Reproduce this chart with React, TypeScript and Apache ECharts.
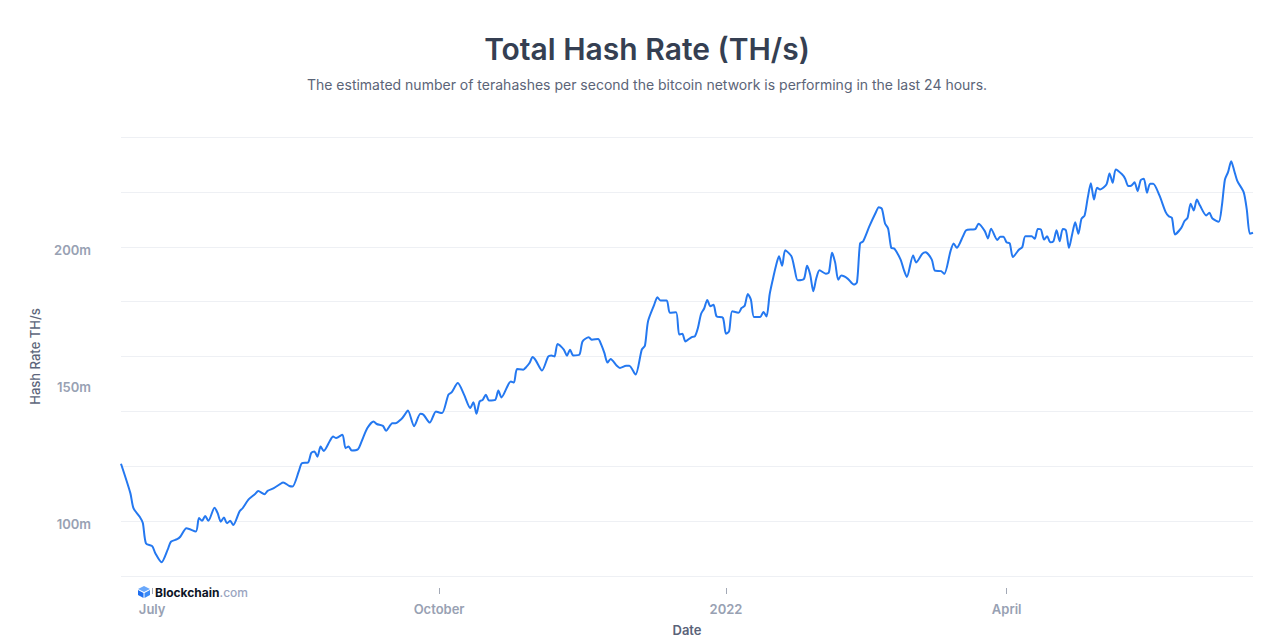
import React, { useEffect, useRef } from "react";
import * as echarts from "echarts";

const titleText = "Total Hash Rate (TH/s)";
const subtitleText =
  "The estimated number of terahashes per second the bitcoin network is performing in the last 24 hours.";
const yAxisName = "Hash Rate TH/s";
const xAxisName = "Date";

const yLabelValues = [100, 150, 200];
const xTickDates = ["2021-07-01", "2021-10-01", "2022-01-01", "2022-04-01"];
const xTickLabels = ["July", "October", "2022", "April"];

const dates = [
  "2021-06-21","2021-06-24","2021-06-25","2021-06-27","2021-06-28","2021-06-29",
  "2021-07-01","2021-07-02","2021-07-04","2021-07-06","2021-07-07","2021-07-09","2021-07-10","2021-07-12",
  "2021-07-15","2021-07-16","2021-07-17","2021-07-18","2021-07-19","2021-07-21","2021-07-22","2021-07-23",
  "2021-07-24","2021-07-25","2021-07-26","2021-07-27","2021-07-29","2021-07-30",
  "2021-08-01","2021-08-03","2021-08-04","2021-08-06","2021-08-07","2021-08-09","2021-08-11","2021-08-12",
  "2021-08-14","2021-08-15","2021-08-17","2021-08-18","2021-08-20","2021-08-21","2021-08-22","2021-08-23",
  "2021-08-24","2021-08-25","2021-08-27","2021-08-28","2021-08-29","2021-08-31",
  "2021-09-01","2021-09-02","2021-09-03","2021-09-05","2021-09-06","2021-09-08","2021-09-10","2021-09-11",
  "2021-09-13","2021-09-14","2021-09-16","2021-09-17","2021-09-19","2021-09-20","2021-09-21","2021-09-23",
  "2021-09-25","2021-09-26","2021-09-28","2021-09-30",
  "2021-10-01","2021-10-02","2021-10-04","2021-10-05","2021-10-07","2021-10-09","2021-10-11","2021-10-12",
  "2021-10-13","2021-10-14","2021-10-15","2021-10-16","2021-10-17","2021-10-19","2021-10-20","2021-10-21",
  "2021-10-24","2021-10-25","2021-10-26","2021-10-28","2021-10-29","2021-10-30","2021-10-31",
  "2021-11-01","2021-11-03","2021-11-05","2021-11-06","2021-11-07","2021-11-08","2021-11-10","2021-11-11",
  "2021-11-12","2021-11-13","2021-11-15","2021-11-16","2021-11-18","2021-11-19","2021-11-21","2021-11-22",
  "2021-11-23","2021-11-24","2021-11-25","2021-11-27","2021-11-28","2021-11-30",
  "2021-12-01","2021-12-03","2021-12-05","2021-12-06","2021-12-07","2021-12-09","2021-12-10","2021-12-11",
  "2021-12-13","2021-12-14","2021-12-16","2021-12-17","2021-12-18","2021-12-19","2021-12-21","2021-12-22",
  "2021-12-23","2021-12-24","2021-12-25","2021-12-26","2021-12-27","2021-12-28","2021-12-29","2021-12-31",
  "2022-01-01","2022-01-02","2022-01-03","2022-01-05","2022-01-06","2022-01-07","2022-01-08","2022-01-09",
  "2022-01-10","2022-01-12","2022-01-13","2022-01-14","2022-01-15","2022-01-16","2022-01-17","2022-01-18",
  "2022-01-19","2022-01-20","2022-01-22","2022-01-23","2022-01-24","2022-01-26","2022-01-27","2022-01-28",
  "2022-01-29","2022-01-30","2022-01-31",
  "2022-02-02","2022-02-03","2022-02-04","2022-02-05","2022-02-06","2022-02-07","2022-02-09","2022-02-11",
  "2022-02-12","2022-02-13","2022-02-14","2022-02-16","2022-02-18","2022-02-19","2022-02-20","2022-02-21",
  "2022-02-22","2022-02-23","2022-02-24","2022-02-26","2022-02-27","2022-02-28",
  "2022-03-02","2022-03-03","2022-03-05","2022-03-06","2022-03-08","2022-03-09","2022-03-11","2022-03-12",
  "2022-03-14","2022-03-15","2022-03-16","2022-03-18","2022-03-19","2022-03-21","2022-03-22","2022-03-23",
  "2022-03-25","2022-03-26","2022-03-27","2022-03-29","2022-03-30","2022-03-31",
  "2022-04-01","2022-04-02","2022-04-03","2022-04-05","2022-04-06","2022-04-07","2022-04-09","2022-04-10",
  "2022-04-11","2022-04-12","2022-04-13","2022-04-14","2022-04-15","2022-04-16","2022-04-17","2022-04-18",
  "2022-04-19","2022-04-20","2022-04-21","2022-04-22","2022-04-23","2022-04-24","2022-04-25","2022-04-26",
  "2022-04-27","2022-04-28","2022-04-29","2022-04-30",
  "2022-05-01","2022-05-03","2022-05-04","2022-05-05","2022-05-06","2022-05-08","2022-05-09","2022-05-10",
  "2022-05-11","2022-05-12","2022-05-13","2022-05-14","2022-05-15","2022-05-16","2022-05-17","2022-05-18",
  "2022-05-20","2022-05-22","2022-05-23","2022-05-24","2022-05-25","2022-05-27","2022-05-28","2022-05-29",
  "2022-05-30","2022-05-31",
  "2022-06-01","2022-06-02","2022-06-04","2022-06-05","2022-06-06","2022-06-08","2022-06-09","2022-06-10",
  "2022-06-11","2022-06-12","2022-06-13","2022-06-14","2022-06-16","2022-06-17","2022-06-18","2022-06-19",
];

const hashRate = [
  120.9,110.2,104.7,101.6,99.3,91.9,
  90.9,88.3,85.0,89.7,92.5,93.4,94.3,97.4,
  96.2,101.1,100.1,101.9,100.1,104.9,102.9,99.8,
  101.3,99.2,100.1,98.6,103.5,104.7,
  108.0,109.9,111.0,109.8,111.0,112.0,113.5,114.1,
  112.8,112.6,118.1,121.1,121.4,124.8,125.4,123.5,
  127.2,125.6,129.3,130.8,130.3,131.5,
  126.6,127.2,125.7,126.2,128.6,133.9,136.3,135.4,
  134.7,132.9,135.7,135.7,137.3,138.8,140.3,134.6,
  139.1,138.8,135.9,140.0,
  139.6,139.4,146.1,146.9,150.3,146.1,141.2,143.3,
  139.1,143.6,144.2,146.1,144.0,144.2,147.6,145.1,
  150.9,150.5,155.4,155.2,156.2,157.6,159.8,
  158.6,154.9,160.0,160.4,160.0,164.6,162.5,160.3,
  162.5,160.4,160.7,165.5,167.0,166.1,166.4,164.3,
  161.3,157.8,159.1,156.6,155.8,156.6,
  156.6,153.4,162.5,163.9,172.8,178.9,181.6,180.4,
  180.4,175.9,176.1,168.0,168.3,165.5,167.1,167.3,
  170.4,175.5,177.5,180.6,178.3,178.9,174.6,174.1,
  168.3,169.2,176.5,175.9,177.7,178.5,182.8,180.7,
  174.4,174.4,176.2,174.6,182.6,188.0,192.9,196.5,
  193.1,198.7,196.5,191.9,187.8,188.3,193.1,189.9,
  183.8,188.7,191.4,
  190.2,190.7,197.8,194.3,188.0,189.5,188.4,186.2,
  187.0,201.2,202.0,207.5,212.4,214.4,213.8,208.5,
  206.6,199.6,199.3,195.3,191.7,189.0,
  196.8,194.3,197.5,198.0,195.3,191.3,191.1,190.1,
  198.4,201.2,199.6,203.8,206.0,206.3,206.5,208.4,
  205.7,203.0,206.6,202.5,203.6,203.6,
  201.6,201.2,196.3,199.0,199.8,203.8,203.8,202.9,
  206.5,206.3,202.6,203.8,201.6,202.0,206.0,202.0,
  206.5,206.0,199.6,204.5,208.9,204.7,210.2,211.4,
  217.8,223.1,217.2,221.5,
  220.9,222.7,226.7,223.3,228.2,226.4,224.8,222.1,
  222.3,223.5,220.3,224.3,224.8,219.7,223.0,223.0,
  218.7,212.6,211.1,210.5,204.5,206.9,209.3,210.5,
  215.7,213.2,
  217.2,215.0,211.4,212.4,210.3,209.1,214.8,224.5,
  227.2,231.2,227.6,223.9,219.9,213.6,204.7,205.1,
];

const FONT = "Inter, 'Noto Sans', sans-serif";

export default function App() {
  const ref = useRef<HTMLDivElement>(null);

  useEffect(() => {
    if (!ref.current) return;
    const chart = echarts.init(ref.current, null, { renderer: "svg" });
    const toTime = (d: string) => +echarts.time.parse(d);
    const tickTimes = xTickDates.map(toTime);
    const seriesData = dates.map((d, i) => [toTime(d), hashRate[i]]);

    chart.setOption({
      animation: false,
      backgroundColor: "#ffffff",
      textStyle: { fontFamily: FONT },
      title: {
        text: titleText,
        subtext: subtitleText,
        left: 642,
        textAlign: "center",
        top: 29,
        itemGap: 13,
        textStyle: {
          fontFamily: FONT,
          fontSize: 30,
          fontWeight: 600,
          color: "#353f52",
        },
        subtextStyle: {
          fontFamily: FONT,
          fontSize: 14,
          fontWeight: 400,
          color: "#5b6477",
        },
      },
      grid: {
        left: 121,
        right: 27,
        top: 137,
        bottom: 64,
        containLabel: false,
        outerBoundsMode: "none",
      },
      xAxis: {
        type: "value",
        min: toTime(dates[0]),
        max: toTime(dates[dates.length - 1]),
        offset: 12,
        name: xAxisName,
        nameLocation: "middle",
        nameGap: 35,
        nameTextStyle: {
          fontFamily: FONT,
          fontSize: 13,
          fontWeight: 600,
          color: "#5a6379",
        },
        axisLine: { show: false },
        axisTick: {
          show: true,
          length: 6,
          customValues: tickTimes,
          lineStyle: { color: "#a3a9b6", width: 1 },
        },
        axisLabel: {
          customValues: tickTimes,
          margin: 14,
          fontFamily: FONT,
          fontSize: 13,
          fontWeight: 600,
          color: "#98a1b3",
          formatter: (val: number) => {
            const i = tickTimes.indexOf(val);
            return i >= 0 ? xTickLabels[i] : "";
          },
        },
        splitLine: { show: false },
      },
      yAxis: {
        type: "value",
        min: 80,
        max: 240,
        interval: 20,
        name: yAxisName,
        nameLocation: "middle",
        nameGap: 80,
        nameTextStyle: {
          fontFamily: FONT,
          fontSize: 13,
          fontWeight: 500,
          color: "#5d667b",
        },
        axisLine: { show: false },
        axisTick: { show: false },
        axisLabel: {
          customValues: yLabelValues,
          margin: 30,
          verticalAlign: "top",
          lineHeight: 6,
          fontFamily: FONT,
          fontSize: 13,
          fontWeight: 600,
          color: "#98a1b3",
          formatter: (v: number) => `${v}m`,
        },
        splitLine: { show: true, lineStyle: { color: "#eef0f4", width: 1 } },
      },
      series: [
        {
          type: "line",
          data: seriesData,
          showSymbol: false,
          smooth: 0.25,
          lineStyle: { color: "#2478f0", width: 2 },
          itemStyle: { color: "#2478f0" },
        },
      ],
      graphic: [
        {
          type: "group",
          left: 138,
          top: 586,
          children: [
            { type: "polygon", shape: { points: [[6, 0], [12, 3], [6, 6], [0, 3]] }, style: { fill: "#6aa8fb" } },
            { type: "polygon", shape: { points: [[0, 4], [5.5, 7], [5.5, 12], [0, 9]] }, style: { fill: "#1f6ff0" } },
            { type: "polygon", shape: { points: [[6.5, 7], [12, 4], [12, 9], [6.5, 12]] }, style: { fill: "#3c8bf6" } },
          ],
        },
        {
          type: "text",
          left: 155,
          top: 586,
          style: {
            text: "{a|Blockchain}{b|.com}",
            rich: {
              a: { fontFamily: FONT, fontSize: 12, fontWeight: 700, fill: "#0d1526", color: "#0d1526" },
              b: { fontFamily: FONT, fontSize: 12, fontWeight: 500, fill: "#9aa5bf", color: "#9aa5bf" },
            },
          },
        },
      ],
    });

    return () => chart.dispose();
  }, []);

  return (
    <div
      ref={ref}
      style={{ position: "fixed", left: 0, top: 0, width: 1280, height: 640 }}
    />
  );
}
